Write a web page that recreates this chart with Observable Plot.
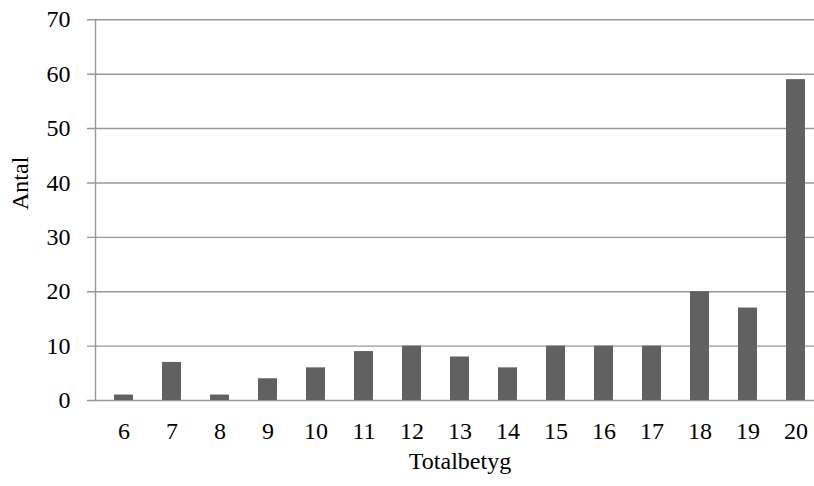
<!DOCTYPE html>
<html>
<head>
<meta charset="utf-8">
<script src="https://cdn.jsdelivr.net/npm/d3@7"></script>
<script src="https://cdn.jsdelivr.net/npm/@observablehq/plot@0.6"></script>
<style>
  html, body { margin: 0; padding: 0; background: #fff; overflow: hidden; }
  #chart svg { font-family: "Liberation Serif", "DejaVu Serif", serif; }
</style>
</head>
<body>
<div id="chart"></div>
<script>
const categories = ["6","7","8","9","10","11","12","13","14","15","16","17","18","19","20"];
const counts = [1, 7, 1, 4, 6, 9, 10, 8, 6, 10, 10, 10, 20, 17, 59];
const yTicks = [0, 10, 20, 30, 40, 50, 60, 70];
const xLabel = "Totalbetyg";
const yLabel = "Antal";

const data = categories.map((c, i) => ({grade: c, count: counts[i]}));

const chart = Plot.plot({
  width: 814,
  height: 486,
  marginTop: 19,
  marginBottom: 86,
  marginLeft: 95,
  marginRight: 0,
  style: {fontFamily: "'Liberation Serif', 'DejaVu Serif', serif", fontSize: "24px", color: "#000", background: "#fff"},
  x: {domain: categories, range: [95, 823.6], paddingInner: 0.6, paddingOuter: 0.3, label: null},
  y: {domain: [0, 70], range: [400, 19.3], label: null},
  marks: [
    Plot.ruleY(yTicks, {y: d => d, stroke: "#989898", strokeWidth: 1.4, insetLeft: -8}),
    Plot.frame({anchor: "left", stroke: "#989898", strokeWidth: 1.4}),
    Plot.barY(data, {x: "grade", y: "count", fill: "#616161"}),
    Plot.axisY(yTicks, {tickSize: 0, tickPadding: 25, fontSize: 24, fill: "#000", label: null}),
    Plot.axisX({tickSize: 0, tickPadding: 21, fontSize: 24, fill: "#000", label: null}),
    Plot.text([yLabel], {frameAnchor: "left", dx: -75, rotate: -90, fontSize: 24, fill: "#000"}),
    Plot.text([xLabel], {frameAnchor: "bottom", dx: 5, dy: 68, fontSize: 24, fill: "#000"})
  ]
});
document.getElementById("chart").appendChild(chart);
</script>
</body>
</html>
